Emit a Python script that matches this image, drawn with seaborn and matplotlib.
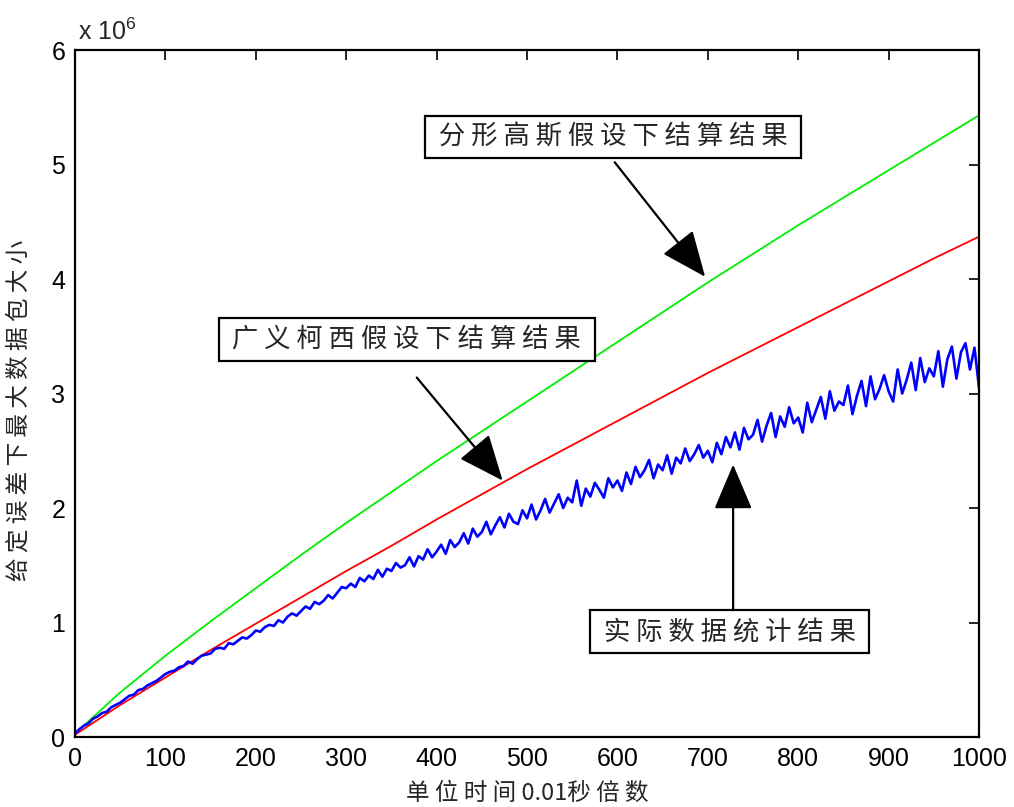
import numpy as np
import pandas as pd
import matplotlib
matplotlib.use("Agg")
import matplotlib.pyplot as plt
import seaborn as sns

# ---- data (values in units of 1e6) ----
x_smooth = [0, 50, 100, 150, 200, 250, 300, 350, 400, 450, 500,
            550, 600, 650, 700, 750, 800, 850, 900, 950, 1000]
fgn_values = [0.03, 0.39, 0.71, 1.01, 1.30, 1.59, 1.87, 2.14, 2.41, 2.67, 2.93,
              3.19, 3.45, 3.71, 3.97, 4.22, 4.47, 4.71, 4.95, 5.19, 5.43]
cauchy_values = [0.02, 0.28, 0.52, 0.76, 0.99, 1.22, 1.45, 1.67, 1.90, 2.12, 2.34,
                 2.55, 2.76, 2.97, 3.18, 3.38, 3.58, 3.78, 3.98, 4.18, 4.37]

x_measured = list(range(0, 1001, 5))
measured_values = [
    0.03, 0.07, 0.10, 0.12, 0.16, 0.18, 0.21, 0.22, 0.26, 0.28,
    0.30, 0.33, 0.36, 0.37, 0.41, 0.42, 0.45, 0.47, 0.49, 0.52,
    0.55, 0.57, 0.58, 0.61, 0.62, 0.66, 0.64, 0.68, 0.71, 0.72,
    0.73, 0.77, 0.78, 0.77, 0.82, 0.81, 0.84, 0.87, 0.86, 0.89,
    0.93, 0.92, 0.96, 0.98, 0.97, 1.02, 1.00, 1.05, 1.08, 1.06,
    1.10, 1.14, 1.12, 1.18, 1.16, 1.19, 1.24, 1.21, 1.26, 1.31,
    1.30, 1.34, 1.31, 1.39, 1.36, 1.41, 1.38, 1.46, 1.40, 1.47,
    1.45, 1.52, 1.48, 1.50, 1.57, 1.49, 1.58, 1.55, 1.64, 1.57,
    1.62, 1.68, 1.60, 1.72, 1.66, 1.70, 1.78, 1.69, 1.82, 1.75,
    1.79, 1.88, 1.77, 1.85, 1.92, 1.83, 1.95, 1.88, 1.86, 1.98,
    1.91, 2.03, 1.90, 1.98, 2.08, 1.96, 2.04, 2.12, 2.00, 2.09,
    2.05, 2.24, 2.02, 2.17, 2.10, 2.22, 2.16, 2.09, 2.26, 2.18,
    2.24, 2.15, 2.31, 2.21, 2.36, 2.27, 2.33, 2.42, 2.26, 2.38,
    2.33, 2.46, 2.30, 2.44, 2.39, 2.52, 2.41, 2.47, 2.55, 2.44,
    2.50, 2.40, 2.57, 2.47, 2.62, 2.53, 2.66, 2.51, 2.70, 2.60,
    2.64, 2.77, 2.58, 2.72, 2.83, 2.62, 2.80, 2.71, 2.88, 2.74,
    2.79, 2.66, 2.92, 2.75, 2.86, 2.97, 2.78, 3.02, 2.85, 2.93,
    2.90, 3.07, 2.82, 2.98, 3.11, 2.89, 3.15, 2.95, 3.04, 3.16,
    3.02, 2.93, 3.21, 3.00, 3.12, 3.27, 3.03, 3.31, 3.10, 3.22,
    3.15, 3.37, 3.06, 3.30, 3.41, 3.13, 3.36, 3.44, 3.21, 3.40,
    3.05,
]

x_ticks = [0, 100, 200, 300, 400, 500, 600, 700, 800, 900, 1000]
y_ticks = [0, 1, 2, 3, 4, 5, 6]

label_fgn = " 分 形 高 斯 假 设 下 结 算 结 果 "
label_cauchy = " 广 义 柯 西 假 设 下 结 算 结 果 "
label_measured = " 实 际 数 据 统 计 结 果 "
x_label = "单 位 时 间 0.01秒 倍 数"
y_label = "给 定 误 差 下 最 大 数 据 包 大 小"

# ---- plotting ----
sns.set_style("white")
plt.rcParams["font.family"] = ["Liberation Sans", "Noto Sans CJK SC", "DejaVu Sans"]
plt.rcParams["mathtext.default"] = "regular"

fig = plt.figure(figsize=(10.14, 8.07), dpi=100)
ax = fig.add_axes([0.074, 0.0867, 0.8915, 0.8513])

df_smooth = pd.DataFrame({"x": x_smooth, "fgn": fgn_values, "cauchy": cauchy_values})
df_meas = pd.DataFrame({"x": x_measured, "y": measured_values})

sns.lineplot(data=df_smooth, x="x", y="cauchy", color="#ff0000", linewidth=1.3, ax=ax)
sns.lineplot(data=df_smooth, x="x", y="fgn", color="#00ee00", linewidth=1.3, ax=ax)
sns.lineplot(data=df_meas, x="x", y="y", color="#0000ff", linewidth=1.9, ax=ax)

ax.set_xlim(0, 1000)
ax.set_ylim(0, 6)
ax.set_xticks(x_ticks)
ax.set_yticks(y_ticks)
ax.set_xticklabels([str(t) for t in x_ticks])
ax.set_yticklabels([str(t) for t in y_ticks])
ax.tick_params(direction="in", length=7, width=1.2, top=True, right=True,
               labelsize=18, colors="black", pad=7)
for s in ax.spines.values():
    s.set_visible(True)
    s.set_linewidth(1.6)
    s.set_color("black")

cjk = ["Noto Sans CJK SC", "DejaVu Sans"]
ax.set_xlabel(x_label, fontsize=17, family=cjk, labelpad=8)
ax.set_ylabel(y_label, fontsize=17, family=cjk)
ax.yaxis.set_label_coords(-0.049, 0.475)

ax.text(0.003, 1.008, r"x 10$^{6}$", transform=ax.transAxes, fontsize=18,
        ha="left", va="bottom")

box = dict(boxstyle="square,pad=0.3", facecolor="white", edgecolor="black", linewidth=1.6)
arrow = dict(arrowstyle="-|>,head_length=1.3,head_width=0.55", color="black",
             linewidth=1.6, mutation_scale=22, shrinkA=0, shrinkB=0)

ax.annotate("", xy=(697, 4.02), xytext=(597, 5.02), arrowprops=arrow)
ax.annotate("", xy=(473, 2.24), xytext=(378, 3.14), arrowprops=arrow)
ax.annotate("", xy=(728, 2.38), xytext=(728, 1.11), arrowprops=arrow)

ax.text(595, 5.24, label_fgn, fontsize=19, family=cjk, ha="center", va="center", bbox=box)
ax.text(367, 3.47, label_cauchy, fontsize=19, family=cjk, ha="center", va="center", bbox=box)
ax.text(724, 0.92, label_measured, fontsize=19, family=cjk, ha="center", va="center", bbox=box)

fig.savefig("out.png", dpi=100, facecolor="white")
